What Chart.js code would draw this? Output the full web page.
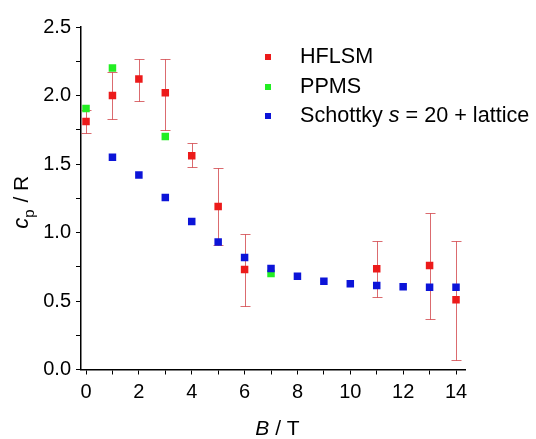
<!DOCTYPE html>
<html><head><meta charset="utf-8">
<script src="https://cdn.jsdelivr.net/npm/chart.js@4/dist/chart.umd.min.js"></script>
<style>html,body{margin:0;padding:0;background:#fff}#wrap{width:536px;height:439px}</style>
</head><body><div id="wrap"><canvas id="c" width="536" height="439"></canvas></div>
<script>
// ---- data ----
const hflsmB  = [0, 1, 2, 3, 4, 5, 6, 11, 13, 14];
const hflsmCp = [1.81, 2.00, 2.12, 2.02, 1.56, 1.19, 0.73, 0.735, 0.76, 0.51];
const hflsmLo = [1.725, 1.83, 1.96, 1.75, 1.48, 0.91, 0.46, 0.53, 0.37, 0.07];
const hflsmHi = [1.895, 2.17, 2.27, 2.27, 1.65, 1.47, 0.99, 0.94, 1.14, 0.94];
const ppmsB  = [0, 1, 3, 7];
const ppmsCp = [1.905, 2.20, 1.70, 0.70];
const schB  = [1, 2, 3, 4, 5, 6, 7, 8, 9, 10, 11, 12, 13, 14];
const schCp = [1.55, 1.42, 1.255, 1.08, 0.93, 0.817, 0.737, 0.68, 0.645, 0.626, 0.614, 0.604, 0.60, 0.60];
const xTicks = [0,1,2,3,4,5,6,7,8,9,10,11,12,13,14];
const yTicks = [0,0.25,0.5,0.75,1,1.25,1.5,1.75,2,2.25,2.5];
const seriesNames = ['HFLSM', 'PPMS', 'Schottky s = 20 + lattice'];

const RED = '#ec1a1a', GREEN = '#22ee22', BLUE = '#0c14d8';
const FONT = '"Liberation Sans", Arial, sans-serif';

const pts = (xs, ys) => xs.map((x, i) => ({x: x, y: ys[i]}));

const errorBars = {
  id: 'errorBars',
  beforeDatasetsDraw(chart) {
    const {ctx, scales: {x, y}} = chart;
    ctx.save();
    ctx.strokeStyle = 'rgba(205,50,55,0.72)';
    ctx.lineWidth = 1;
    hflsmB.forEach((b, i) => {
      const px = Math.round(x.getPixelForValue(b)) + 0.5;
      const y1 = Math.round(y.getPixelForValue(hflsmLo[i])) + 0.5;
      const y2 = Math.round(y.getPixelForValue(hflsmHi[i])) + 0.5;
      ctx.beginPath();
      ctx.moveTo(px, y1); ctx.lineTo(px, y2);
      ctx.moveTo(px - 5, y1); ctx.lineTo(px + 5, y1);
      ctx.moveTo(px - 5, y2); ctx.lineTo(px + 5, y2);
      ctx.stroke();
    });
    ctx.restore();
  }
};

const decor = {
  id: 'decor',
  afterDraw(chart) {
    const ctx = chart.ctx;
    const ca = chart.chartArea;
    ctx.save();
    ctx.fillStyle = '#000';
    ctx.textBaseline = 'middle';
    // legend
    const colors = [RED, GREEN, BLUE];
    const rows = [57, 87, 116];
    const LF = '21.6px ' + FONT, LFI = 'italic 21.6px ' + FONT;
    rows.forEach((ry, i) => {
      ctx.fillStyle = colors[i];
      ctx.fillRect(265, ry - 3, 6, 6);
      ctx.fillStyle = '#000';
      let tx = 300;
      ctx.font = LF;
      if (i < 2) {
        ctx.fillText(seriesNames[i], tx, ry);
      } else {
        const parts = seriesNames[i].split(' s ');
        ctx.fillText(parts[0] + ' ', tx, ry); tx += ctx.measureText(parts[0] + ' ').width;
        ctx.font = LFI;
        ctx.fillText('s', tx, ry); tx += ctx.measureText('s').width;
        ctx.font = LF;
        ctx.fillText(' ' + parts[1], tx, ry);
      }
    });
    // x title
    ctx.textBaseline = 'alphabetic';
    ctx.font = 'italic 21px ' + FONT;
    const w1 = ctx.measureText('B').width;
    ctx.font = '21px ' + FONT;
    const w2 = ctx.measureText(' / T').width;
    let sx = (ca.left + ca.right) / 2 + 4.5 - (w1 + w2) / 2;
    ctx.font = 'italic 21px ' + FONT;
    ctx.fillText('B', sx, 435);
    ctx.font = '21px ' + FONT;
    ctx.fillText(' / T', sx + w1, 435);
    // y title (rotated)
    ctx.translate(28, (ca.top + ca.bottom) / 2 + 4);
    ctx.rotate(-Math.PI / 2);
    const fC = 'italic 22px ' + FONT, fP = '15px ' + FONT, fR = '21px ' + FONT;
    ctx.font = fC; const a = ctx.measureText('c').width;
    ctx.font = fP; const b = ctx.measureText('p').width + 1;
    ctx.font = fR; const d = ctx.measureText(' / R').width;
    let t = -(a + b + d) / 2;
    ctx.font = fC; ctx.fillText('c', t, 0); t += a;
    ctx.font = fP; ctx.fillText('p', t, 6); t += b;
    ctx.font = fR; ctx.fillText(' / R', t, 0);
    ctx.restore();
  }
};

const common = {pointStyle: 'rect', pointRadius: 5.3, pointHoverRadius: 5.3, borderWidth: 0, showLine: false};

new Chart(document.getElementById('c'), {
  type: 'scatter',
  data: {
    datasets: [
      Object.assign({label: seriesNames[0], data: pts(hflsmB, hflsmCp), backgroundColor: RED, borderColor: RED, order: 1}, common),
      Object.assign({label: seriesNames[1], data: pts(ppmsB, ppmsCp), backgroundColor: GREEN, borderColor: GREEN, order: 2}, common),
      Object.assign({label: seriesNames[2], data: pts(schB, schCp), backgroundColor: BLUE, borderColor: BLUE, order: 0}, common)
    ]
  },
  options: {
    responsive: false,
    animation: false,
    events: [],
    layout: {padding: {top: 27, right: 71, bottom: 0, left: 0}},
    plugins: {legend: {display: false}, tooltip: {enabled: false}},
    scales: {
      x: {
        type: 'linear', min: -0.19, max: 14.34,
        afterBuildTicks: s => { s.ticks = xTicks.map(v => ({value: v})); },
        afterFit: s => { s.height = 69.5; },
        ticks: {autoSkip: false, maxRotation: 0, padding: 6, color: '#000',
          font: {family: FONT, size: 20},
          callback: v => (v % 2 === 0 ? String(v) : '')},
        grid: {drawOnChartArea: false, drawTicks: true, tickLength: 5, color: '#000', tickWidth: 1},
        border: {display: true, color: '#000', width: 1.5}
      },
      y: {
        type: 'linear', min: 0, max: 2.5,
        afterBuildTicks: s => { s.ticks = yTicks.map(v => ({value: v})); },
        afterFit: s => { s.width = 81; },
        ticks: {autoSkip: false, padding: 5, color: '#000',
          font: {family: FONT, size: 20},
          callback: v => (Math.abs(v * 2 - Math.round(v * 2)) < 1e-9 ? v.toFixed(1) : '')},
        grid: {drawOnChartArea: false, drawTicks: true, tickLength: 5, color: '#000', tickWidth: 1},
        border: {display: true, color: '#000', width: 1.5}
      }
    }
  },
  plugins: [errorBars, decor]
});
</script>
</body></html>
